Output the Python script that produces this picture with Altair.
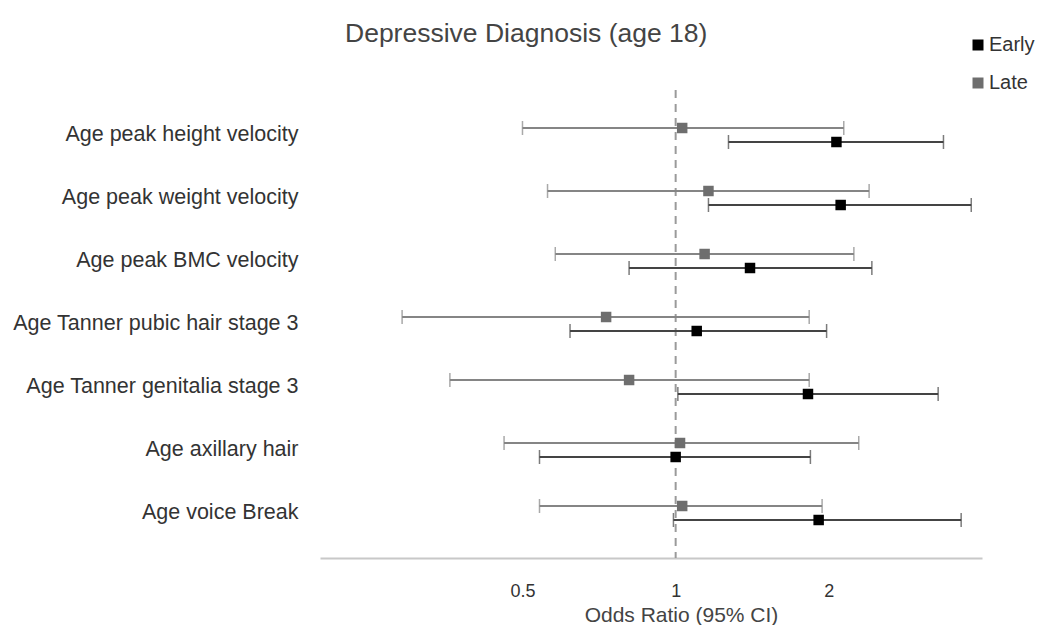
import altair as alt
import pandas as pd

labels = ["Age peak height velocity", "Age peak weight velocity", "Age peak BMC velocity",
          "Age Tanner pubic hair stage 3", "Age Tanner genitalia stage 3",
          "Age axillary hair", "Age voice Break"]
groups = ["Early", "Late"]

early_or = [2.07, 2.11, 1.40, 1.10, 1.82, 1.00, 1.91]
early_lo = [1.27, 1.16, 0.81, 0.62, 1.01, 0.54, 0.99]
early_hi = [3.36, 3.81, 2.43, 1.98, 3.28, 1.84, 3.64]
late_or = [1.03, 1.16, 1.14, 0.73, 0.81, 1.02, 1.03]
late_lo = [0.50, 0.56, 0.58, 0.29, 0.36, 0.46, 0.54]
late_hi = [2.14, 2.40, 2.24, 1.83, 1.83, 2.29, 1.94]

x_ticks = [0.5, 1, 2]

rows = []
for g, ors, los, his in [("Early", early_or, early_lo, early_hi), ("Late", late_or, late_lo, late_hi)]:
    for lab, o, l, h in zip(labels, ors, los, his):
        rows.append({"measure": lab, "group": g, "or": o, "lo": l, "hi": h})
df = pd.DataFrame(rows)

FONT = "Liberation Sans"

xscale = alt.Scale(type="log", domain=[0.2, 4], nice=False)
y_enc = alt.Y("measure:N", sort=labels,
              scale=alt.Scale(paddingOuter=0.381, paddingInner=0.3333),
              axis=alt.Axis(title=None, domain=False, ticks=False, labelFontSize=21.5,
                            labelColor="#333333", labelPadding=22, labelLimit=400,
                            labelFont=FONT))
yoff = alt.YOffset("group:N", sort=["Late", "Early"],
                   scale=alt.Scale(type="point", padding=1))
line_color = alt.condition(alt.datum.group == "Early", alt.value("#444444"), alt.value("#858585"))

base = alt.Chart(df)

rules = base.mark_rule(strokeWidth=2).encode(
    x=alt.X("lo:Q", scale=xscale,
            axis=alt.Axis(values=x_ticks, format="~g", grid=False, ticks=False,
                          domain=True, domainColor="#c8c8c8", domainWidth=2,
                          labelFontSize=18, labelColor="#333333", labelPadding=24,
                          labelFont=FONT, title="Odds Ratio (95% CI)",
                          titleFontSize=21, titleFontWeight="normal",
                          titleColor="#444444", titleFont=FONT, titlePadding=4,
                          titleX=361, titleAlign="center")),
    x2="hi:Q", y=y_enc, yOffset=yoff, color=line_color)

cap_lo = base.mark_tick(orient="vertical", size=14, thickness=1.5).encode(
    x=alt.X("lo:Q", scale=xscale), y=y_enc, yOffset=yoff, color=line_color)
cap_hi = base.mark_tick(orient="vertical", size=14, thickness=1.5).encode(
    x=alt.X("hi:Q", scale=xscale), y=y_enc, yOffset=yoff, color=line_color)

points = base.mark_point(shape="square", filled=True, size=110, opacity=1).encode(
    x=alt.X("or:Q", scale=xscale), y=y_enc, yOffset=yoff,
    color=alt.Color("group:N", sort=groups,
                    scale=alt.Scale(domain=groups, range=["#000000", "#6e6e6e"]),
                    legend=alt.Legend(title=None, orient="none", legendX=648, legendY=-55,
                                      symbolType="square", symbolSize=121,
                                      symbolStrokeWidth=0, labelFontSize=20,
                                      labelColor="#333333", labelFont=FONT,
                                      rowPadding=18, labelOffset=1)))

ref = alt.Chart(pd.DataFrame({"v": [1]})).mark_rule(
    strokeDash=[8, 6], color="#9a9a9a", strokeWidth=2).encode(x=alt.X("v:Q", scale=xscale))

chart = alt.layer(ref, rules, cap_lo, cap_hi, points).properties(
    width=662, height=468,
    title=alt.TitleParams("Depressive Diagnosis (age 18)", anchor="start", frame="group",
                          dx=25, dy=12, fontSize=26.5, fontWeight="normal",
                          color="#444444", font=FONT, offset=0),
    autosize=alt.AutoSizeParams(type="none"),
    padding={"left": 320, "top": 90, "right": 56, "bottom": 67},
).configure_view(stroke=None)

chart.save("out.html", embed_options={"renderer": "svg", "actions": False})
